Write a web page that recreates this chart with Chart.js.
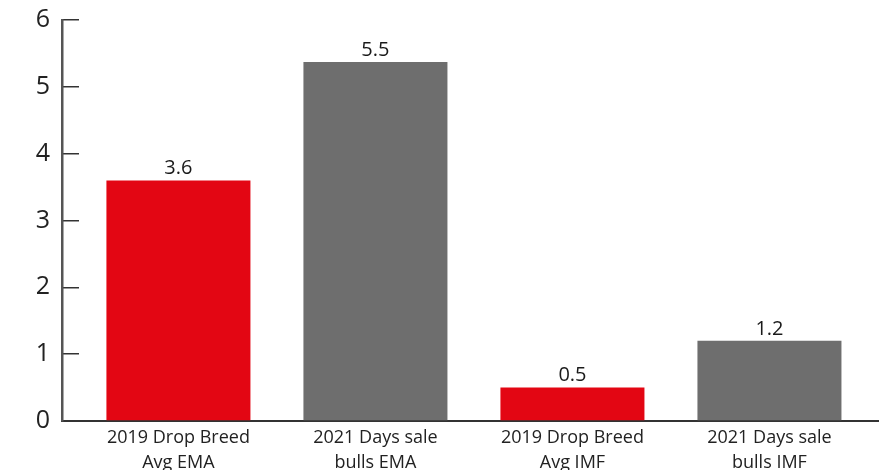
<!DOCTYPE html>
<html>
<head>
<meta charset="utf-8">
<script src="https://cdn.jsdelivr.net/npm/chart.js@4/dist/chart.umd.min.js"></script>
<style>
html,body{margin:0;padding:0;background:#fff;}
#wrap{width:884px;height:470px;position:relative;}
</style>
</head>
<body>
<div id="wrap"><canvas id="c" width="884" height="470"></canvas></div>
<script>
// ---- data ----
const categories = [
  ['2019 Drop Breed', 'Avg EMA'],
  ['2021 Days sale', 'bulls EMA'],
  ['2019 Drop Breed', 'Avg IMF'],
  ['2021 Days sale', 'bulls IMF']
];
const values = [3.6, 5.37, 0.5, 1.2];          // bar heights as drawn
const valueLabels = ['3.6', '5.5', '0.5', '1.2']; // labels as printed
const yTicks = [0, 1, 2, 3, 4, 5, 6];

// ---- styles ----
const RED = '#E30613';
const GRAY = '#6E6E6E';
const barColors = [RED, GRAY, RED, GRAY];
const FONT = "'Open Sans', 'Liberation Sans', sans-serif";

const dataLabelPlugin = {
  id: 'dataLabels',
  afterDatasetsDraw(chart) {
    const ctx = chart.ctx;
    const meta = chart.getDatasetMeta(0);
    ctx.save();
    ctx.font = '20px ' + FONT;
    ctx.fillStyle = '#1a1a1a';
    ctx.textAlign = 'center';
    ctx.textBaseline = 'bottom';
    meta.data.forEach((bar, i) => {
      ctx.fillText(valueLabels[i], bar.x, bar.y - 2);
    });
    ctx.restore();
  }
};

new Chart(document.getElementById('c'), {
  type: 'bar',
  data: {
    datasets: [{
      data: values.map((v, i) => ({ x: i, y: v })),
      backgroundColor: barColors,
      borderWidth: 0,
      categoryPercentage: 1,
      barPercentage: 0.731
    }]
  },
  options: {
    responsive: false,
    animation: false,
    layout: { padding: { top: 20, right: 6, left: 0, bottom: 0 } },
    plugins: { legend: { display: false }, tooltip: { enabled: false } },
    scales: {
      x: {
        type: 'linear',
        offset: false,
        min: -0.591,
        max: 3.551,
        afterBuildTicks(scale) { scale.ticks = categories.map((c, i) => ({ value: i })); },
        afterFit(scale) { scale.height = 49; },
        grid: { display: false, drawTicks: false, offset: false },
        border: { display: true, color: '#333', width: 2 },
        ticks: {
          padding: 4,
          color: '#222',
          autoSkip: false,
          maxRotation: 0,
          font: { family: FONT, size: 18, lineHeight: 1.4 },
          callback: (v) => categories[v]
        }
      },
      y: {
        min: 0,
        max: 6,
        afterBuildTicks(scale) { scale.ticks = yTicks.map(v => ({ value: v })); },
        afterFit(scale) { scale.width = 62; scale.paddingTop = 0; scale.paddingBottom = 0; },
        grid: { drawOnChartArea: false, drawTicks: true, tickLength: -17, color: '#333', lineWidth: 1.5 },
        border: { display: true, color: '#555', width: 2.5 },
        ticks: {
          padding: 29,
          color: '#222',
          font: { family: FONT, size: 25 }
        }
      }
    }
  },
  plugins: [dataLabelPlugin]
});
</script>
</body>
</html>
